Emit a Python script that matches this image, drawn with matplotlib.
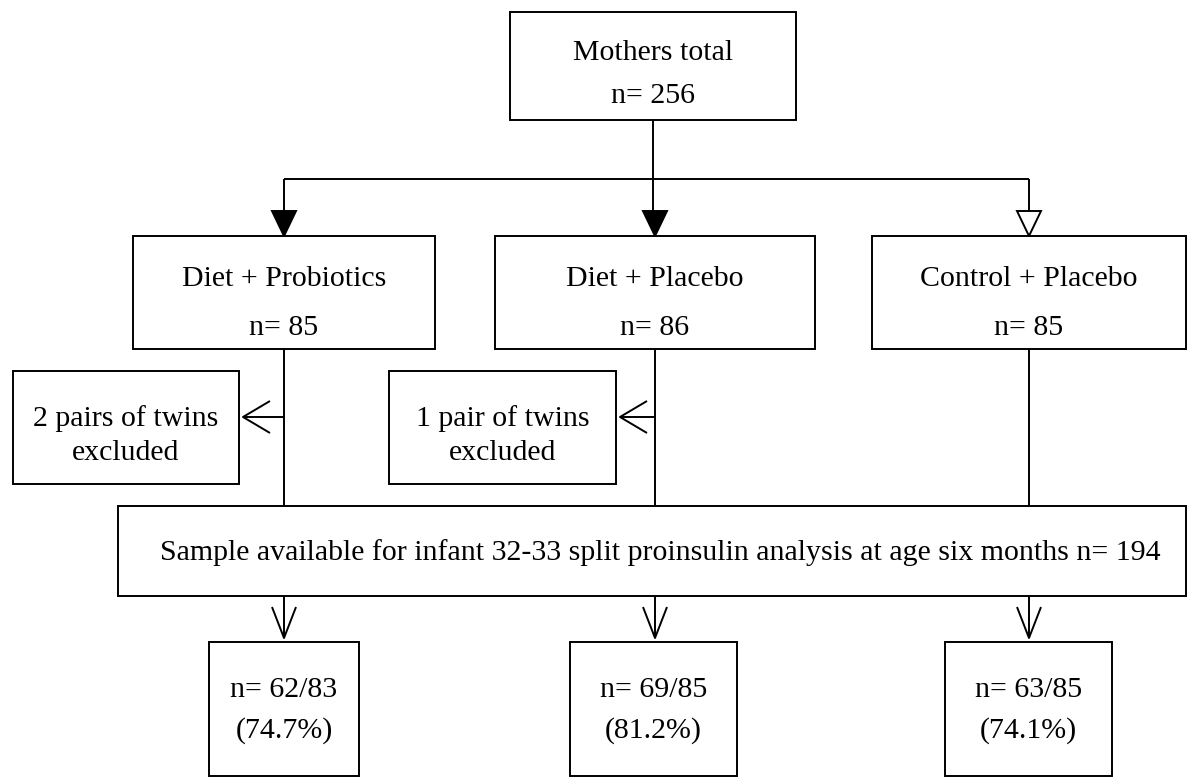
import matplotlib
matplotlib.use("Agg")
import matplotlib.pyplot as plt
from matplotlib.patches import Rectangle, Polygon

# ---- data ----
mother_label = "Mothers total"
mother_n = 256
groups = ["Diet + Probiotics", "Diet + Placebo", "Control + Placebo"]
group_n = [85, 86, 85]
excluded = ["2 pairs of twins\nexcluded", "1 pair of twins\nexcluded", None]
sample_label = "Sample available for infant 32-33 split proinsulin analysis at age six months"
sample_n = 194
analysed = [62, 69, 63]
totals = [83, 85, 85]
pct = [74.7, 81.2, 74.1]

# ---- layout (pixel coordinates) ----
W, H = 1196, 777
FS = 21.5
LW = 1.4
plt.rcParams['font.family'] = ['Liberation Serif', 'DejaVu Serif']

fig = plt.figure(figsize=(W / 100, H / 100), dpi=100)
ax = fig.add_axes([0, 0, 1, 1])
ax.set_xlim(0, W)
ax.set_ylim(H, 0)
ax.axis('off')


def box(x0, x1, y0, y1):
    ax.add_patch(Rectangle((x0, y0), x1 - x0, y1 - y0, fill=False,
                           edgecolor='black', lw=LW, zorder=2))


def line(xs, ys):
    ax.plot(xs, ys, color='black', lw=LW, solid_capstyle='butt', zorder=1)


def head_down(x, ytip, style):
    if style in ('filled', 'open'):
        L, hw = 25, 12
        fc = 'black' if style == 'filled' else 'white'
        ax.add_patch(Polygon([(x - hw, ytip - L), (x + hw, ytip - L), (x, ytip)],
                             closed=True, facecolor=fc, edgecolor='black', lw=LW, zorder=3))
    else:  # V
        L, hw = 31, 12
        line([x - hw, x, x + hw], [ytip - L, ytip, ytip - L])


def head_left(xtip, y):
    L, hw = 27, 16
    line([xtip + L, xtip, xtip + L], [y - hw, y, y + hw])


# top box
tb = (510, 796, 12, 120)
box(*tb)
cx_top = (tb[0] + tb[1]) / 2
ax.text(cx_top, 53, mother_label, ha='center', va='center', fontsize=FS)
ax.text(cx_top, 96, f"n= {mother_n}", ha='center', va='center', fontsize=FS)

# group boxes
gx = [(133, 435), (495, 815), (872, 1186)]
lane_x = [284, 655, 1029]
gy0, gy1 = 236, 349
conn_y = 179
line([cx_top, cx_top], [tb[3], gy0 - 24])
line([lane_x[0], lane_x[2]], [conn_y, conn_y])
styles = ['filled', 'filled', 'open']
for i, (x0, x1) in enumerate(gx):
    lx = lane_x[i]
    if i != 1:
        line([lx, lx], [conn_y, gy0 - 24])
    head_down(lx, gy0, styles[i])
    box(x0, x1, gy0, gy1)
    ax.text(lx, 279, groups[i], ha='center', va='center', fontsize=FS)
    ax.text(lx, 328, f"n= {group_n[i]}", ha='center', va='center', fontsize=FS)

# sample box
sb = (118, 1186, 506, 596)
for lx in lane_x:
    line([lx, lx], [gy1, sb[2]])

# excluded boxes
ex = [(13, 239), (389, 616)]
ey0, ey1 = 371, 484
for i, lab in enumerate(excluded):
    if lab is None:
        continue
    x0, x1 = ex[i]
    box(x0, x1, ey0, ey1)
    l1, l2 = lab.split("\n")
    ax.text((x0 + x1) / 2, 419, l1, ha='center', va='center', fontsize=FS)
    ax.text((x0 + x1) / 2, 453, l2, ha='center', va='center', fontsize=FS)
    line([lane_x[i], x1 + 4], [417, 417])
    head_left(x1 + 4, 417)

box(*sb)
ax.text(660, 553, f"{sample_label} n= {sample_n}", ha='center', va='center', fontsize=FS)

# bottom boxes
bx = [(209, 359), (570, 737), (945, 1112)]
by0, by1 = 642, 776
for i, (x0, x1) in enumerate(bx):
    lx = lane_x[i]
    line([lx, lx], [sb[3], by0 - 4])
    head_down(lx, by0 - 4, 'v')
    box(x0, x1, by0, by1)
    cx = (x0 + x1) / 2
    ax.text(cx, 690, f"n= {analysed[i]}/{totals[i]}", ha='center', va='center', fontsize=FS)
    ax.text(cx, 731, f"({pct[i]:.1f}%)", ha='center', va='center', fontsize=FS)

fig.savefig("out.png", dpi=100, facecolor='white')
